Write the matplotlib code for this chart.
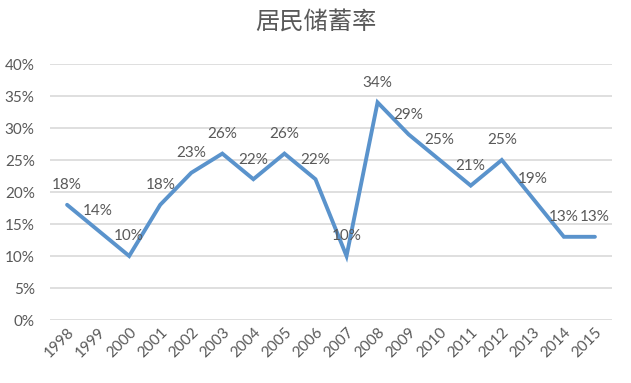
import matplotlib.pyplot as plt
from matplotlib.ticker import FuncFormatter

plt.rcParams['font.family'] = ['Lato', 'Noto Sans CJK SC', 'DejaVu Sans']

years = ['1998', '1999', '2000', '2001', '2002', '2003', '2004', '2005', '2006',
         '2007', '2008', '2009', '2010', '2011', '2012', '2013', '2014', '2015']
rates = [18, 14, 10, 18, 23, 26, 22, 26, 22, 10, 34, 29, 25, 21, 25, 19, 13, 13]

text_color = '#595959'
line_color = '#5A93CC'

fig = plt.figure(figsize=(6.31, 3.83), dpi=100)
ax = fig.add_axes([50 / 631, 63 / 383, 562 / 631, 256 / 383])

x = list(range(len(years)))
ax.plot(x, rates, color=line_color, linewidth=2.8, solid_joinstyle='miter',
        solid_capstyle='round')

for xi, v in zip(x, rates):
    ax.annotate(f'{v}%', (xi, v), xytext=(0, 9), textcoords='offset points',
                ha='center', va='bottom', fontsize=11, color=text_color)

ax.set_ylim(0, 40)
ax.set_yticks(range(0, 41, 5))
ax.yaxis.set_major_formatter(FuncFormatter(lambda v, p: f'{v:.0f}%'))
ax.set_xlim(-0.55, len(years) - 0.45)
ax.set_xticks(x)
ax.set_xticklabels(years, rotation=45, ha='right', rotation_mode='anchor')

ax.grid(axis='y', color='#D9D9D9', linewidth=1.2)
ax.set_axisbelow(True)
for s in ax.spines.values():
    s.set_visible(False)
ax.tick_params(length=0, colors=text_color, labelsize=11)
ax.tick_params(axis='y', pad=11)
ax.tick_params(axis='x', pad=4)

fig.text(0.5, 1 - 22 / 383, '居民储蓄率', ha='center', va='center',
         fontsize=17.5, color=text_color, family=['Noto Sans CJK SC', 'DejaVu Sans'])

fig.savefig('out.png', dpi=100, facecolor='white')
